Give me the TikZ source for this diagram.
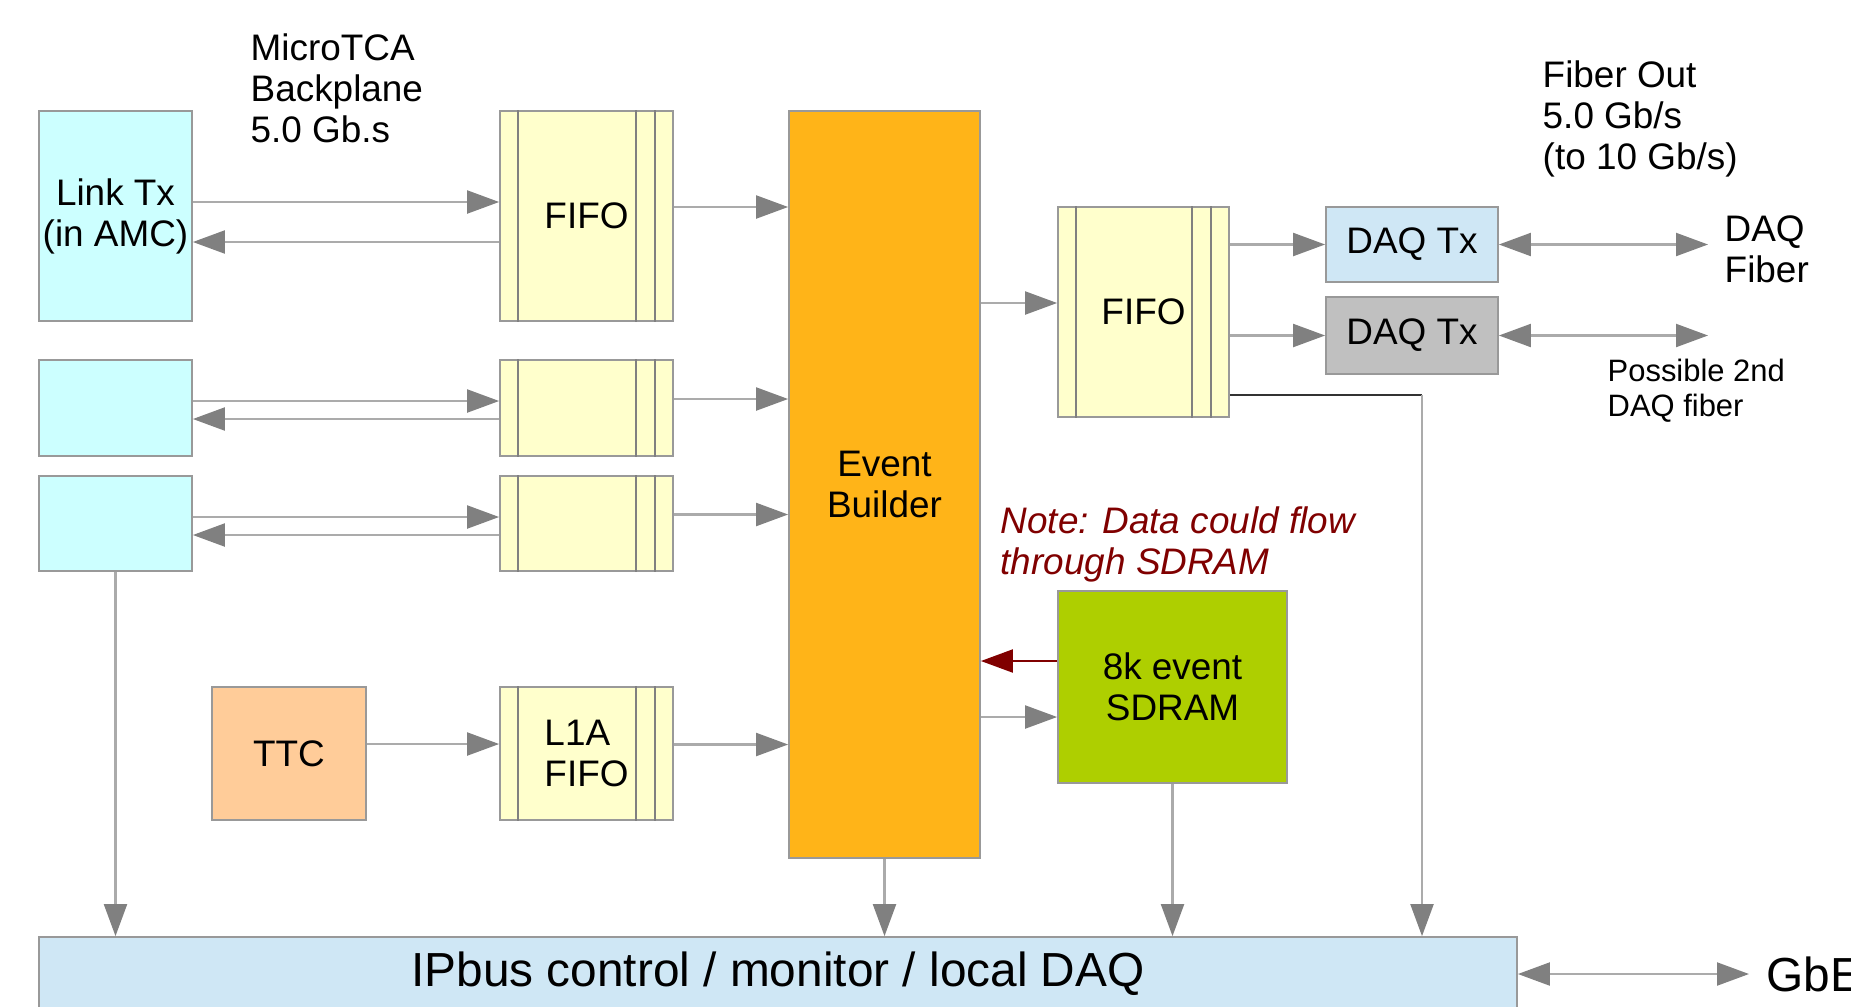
\documentclass[tikz,border=0pt]{standalone}
\usepackage{fontspec}
\setmainfont{Liberation Sans}
\usetikzlibrary{arrows.meta}

\definecolor{linkcyan}{HTML}{CCFFFF}
\definecolor{fifoyellow}{HTML}{FFFFCC}
\definecolor{evorange}{HTML}{FFB418}
\definecolor{ttcorange}{HTML}{FFCC99}
\definecolor{daqblue}{HTML}{CFE7F5}
\definecolor{daqgray}{HTML}{C0C0C0}
\definecolor{sdramgreen}{HTML}{AECF00}
\definecolor{boxgray}{HTML}{999999}
\definecolor{linegray}{HTML}{ABABAB}
\definecolor{tipgray}{HTML}{808080}
\definecolor{notered}{HTML}{800000}

\begin{document}
\begin{tikzpicture}[>={Triangle[length=3.2mm,width=2.3mm,color=tipgray]},
  every node/.style={font=\fontsize{10.5}{11.7}\selectfont},
  box/.style={draw=boxgray, line width=0.5pt, inner sep=0pt, align=center},
  fifo/.style={box, fill=fifoyellow, minimum width=1.73cm},
  fifoline/.style={draw=tipgray, line width=0.4pt},
  txt/.style={inner sep=0pt, align=left},
  conn/.style={draw=linegray, line width=0.6pt, ->},
  redconn/.style={draw=notered, line width=0.6pt, -{Triangle[length=3.2mm,width=2.3mm]}}]
\clip (0,0) rectangle (18.51,10.06); %page frame

% links and input fifos
\node[box, fill=linkcyan, minimum width=1.53cm, minimum height=2.10cm] (link1) at (1.155,7.90) {Link Tx\\(in AMC)};
\node[box, fill=linkcyan, minimum width=1.53cm, minimum height=0.96cm] (link2) at (1.155,5.98) {};
\node[box, fill=linkcyan, minimum width=1.53cm, minimum height=0.95cm] (link3) at (1.155,4.825) {};
\node[fifo, minimum height=2.10cm] (fifoa) at (5.865,7.90) {FIFO};
\node[fifo, minimum height=0.96cm] (fifob) at (5.865,5.98) {};
\node[fifo, minimum height=0.95cm] (fifoc) at (5.865,4.825) {};
\node[box, fill=ttcorange, minimum width=1.54cm, minimum height=1.33cm] (ttc) at (2.89,2.525) {TTC};
\node[fifo, minimum height=1.33cm, align=left] (fifol) at (5.865,2.525) {L1A\\FIFO};

% builder and outputs
\node[box, fill=evorange, minimum width=1.91cm, minimum height=7.47cm] (evb) at (8.845,5.215) {Event\\Builder};
\node[fifo, minimum width=1.71cm, minimum height=2.10cm] (fifor) at (11.435,6.94) {FIFO};
\node[box, fill=daqblue, minimum width=1.72cm, minimum height=0.75cm] (daqa) at (14.12,7.615) {DAQ Tx};
\node[box, fill=daqgray, minimum width=1.72cm, minimum height=0.77cm] (daqb) at (14.12,6.705) {DAQ Tx};
\node[box, fill=sdramgreen, minimum width=2.29cm, minimum height=1.92cm] (sdram) at (11.725,3.19) {8k event\\SDRAM};
\node[box, fill=daqblue, minimum width=14.78cm, minimum height=0.74cm, font=\fontsize{13.6}{15}\selectfont] (ipbus) at (7.78,0.32) {IPbus control / monitor / local DAQ};

\foreach \f in {fifoa,fifob,fifoc,fifol,fifor}{
  \draw[fifoline] ([xshift=0.19cm]\f.north west) -- ([xshift=0.19cm]\f.south west);
  \draw[fifoline] ([xshift=-0.38cm]\f.north east) -- ([xshift=-0.38cm]\f.south east);
  \draw[fifoline] ([xshift=-0.19cm]\f.north east) -- ([xshift=-0.19cm]\f.south east);
}

% labels
\node[txt, anchor=north west] (mtca) at (2.50,9.73) {MicroTCA\\Backplane\\5.0 Gb.s};
\node[txt, anchor=north west] (fibout) at (15.42,9.46) {Fiber Out\\5.0 Gb/s\\(to 10 Gb/s)};
\node[txt, anchor=north west] (daqfib) at (17.24,7.91) {DAQ\\Fiber};
\node[txt, anchor=north west, font=\fontsize{8.8}{10}\selectfont] (posfib) at (16.07,6.48) {Possible 2nd\\DAQ fiber};
\node[txt, anchor=north west, text=notered, font=\fontsize{10.5}{11.7}\selectfont\itshape] (note) at (10.00,5.00) {Note: Data could flow\\through SDRAM};
\node[txt, anchor=west, font=\fontsize{13.6}{15}\selectfont] (gbe) at (17.66,0.32) {GbE};
\coordinate (fibend) at (17.08,7.63);
\coordinate (tap) at (14.22,6.11);

% connectors
\foreach \l/\f/\u/\d in {link1/fifoa/0.14/-0.26, link2/fifob/0.07/-0.11, link3/fifoc/0.065/-0.115}{
  \draw[conn] ([yshift=\u cm]\l.east) -- ([yshift=\u cm]\l.east -| \f.west);
  \draw[conn] ([yshift=\d cm]\f.west) -- ([yshift=\d cm]\f.west -| \l.east);
}
\foreach \f in {fifoa,fifob,fifoc,fifol}
  \draw[conn] ([yshift=0.09cm]\f.east) -- ([yshift=0.09cm]\f.east -| evb.west);
\draw[conn] ([yshift=0.095cm]ttc.east) -- ([yshift=0.095cm]ttc.east -| fifol.west);
\draw[conn] ([yshift=0.09cm]fifor.west -| evb.east) -- ([yshift=0.09cm]fifor.west);
\draw[conn] (fifor.east |- daqa.west) -- (daqa.west);
\draw[conn] (fifor.east |- daqb.west) -- (daqb.west);
\draw[conn, <->] (daqa.east) -- (daqa.east -| fibend);
\draw[conn, <->] (daqb.east) -- (daqb.east -| fibend);
\draw[redconn] ([yshift=0.26cm]sdram.west) -- ([yshift=0.26cm]sdram.west -| evb.east);
\draw[conn] ([yshift=-0.30cm]sdram.west -| evb.east) -- ([yshift=-0.30cm]sdram.west);
\draw[conn] (link3.south) -- (link3.south |- ipbus.north);
\draw[conn] (evb.south) -- (evb.south |- ipbus.north);
\draw[conn] (sdram.south) -- (sdram.south |- ipbus.north);
\draw[draw=black!80, line width=0.6pt] (fifor.east |- tap) -- (tap);
\draw[conn] (tap) -- (tap |- ipbus.north);
\draw[conn, <->] (ipbus.east) -- ([xshift=-0.17cm]gbe.west);
\end{tikzpicture}
\end{document}
